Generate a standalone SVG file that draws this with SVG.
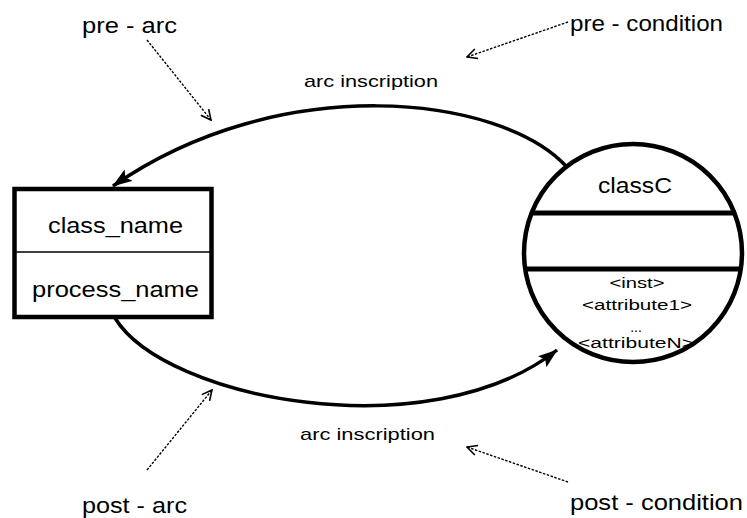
<svg xmlns="http://www.w3.org/2000/svg" width="747" height="518" viewBox="0 0 747 518">
  <style>
    text { font-family: "Liberation Sans", Arial, sans-serif; fill: #000; }
    .label { font-size: 22px; }
    .inscr { font-size: 17px; }
    .name { font-size: 22px; text-anchor: middle; }
    .attr { font-size: 14px; text-anchor: middle; }
    .arc { fill: none; stroke: #000; stroke-width: 3.5; }
    .note { fill: none; stroke: #000; stroke-width: 1.4; stroke-dasharray: 2.5 1.5; }
  </style>
  <defs>
    <marker id="solid" viewBox="0 0 20 14" refX="19" refY="7" markerWidth="20" markerHeight="14" markerUnits="userSpaceOnUse" orient="auto">
      <path d="M0,0 L20,7 L0,14 L4,7 Z" fill="#000"/>
    </marker>
    <marker id="open" viewBox="0 0 12 12" refX="11" refY="6" markerWidth="12" markerHeight="12" markerUnits="userSpaceOnUse" orient="auto">
      <path d="M1,1 L11,6 L1,11" fill="none" stroke="#000" stroke-width="1.6"/>
    </marker>
  </defs>

  <!-- process box -->
  <g id="process">
    <rect x="14.5" y="189" width="197" height="128" fill="#fff" stroke="#000" stroke-width="4.5"/>
    <line x1="14.5" y1="252" x2="211.5" y2="252" stroke="#000" stroke-width="1.5"/>
    <text class="name" x="115.5" y="233" textLength="135" lengthAdjust="spacingAndGlyphs">class_name</text>
    <text class="name" x="115.5" y="297" textLength="167" lengthAdjust="spacingAndGlyphs">process_name</text>
  </g>

  <!-- class place -->
  <g id="classC">
    <circle cx="633" cy="253" r="109" fill="#fff" stroke="#000" stroke-width="4.5"/>
    <line x1="531" y1="213" x2="736" y2="213" stroke="#000" stroke-width="5"/>
    <line x1="527" y1="269" x2="740" y2="269" stroke="#000" stroke-width="5"/>
    <text class="name" x="635" y="193" font-size="20" textLength="74" lengthAdjust="spacingAndGlyphs">classC</text>
    <text class="attr" x="637" y="288" textLength="55" lengthAdjust="spacingAndGlyphs">&lt;inst&gt;</text>
    <text class="attr" x="637" y="310" textLength="110" lengthAdjust="spacingAndGlyphs">&lt;attribute1&gt;</text>
    <text class="attr" x="636" y="332">...</text>
    <text class="attr" x="636" y="348" textLength="116" lengthAdjust="spacingAndGlyphs">&lt;attributeN&gt;</text>
  </g>

  <!-- arcs and annotation pointers -->
  <g id="connectors">
    <path class="arc" d="M566,166 C500,95 280,70 113,186" marker-end="url(#solid)"/>
    <path class="arc" d="M115,318 C165,400 430,450 557,350" marker-end="url(#solid)"/>
    <path class="note" d="M147,40 L211,120" marker-end="url(#open)"/>
    <path class="note" d="M568,22 L467,57" marker-end="url(#open)"/>
    <path class="note" d="M147,470 L212,390" marker-end="url(#open)"/>
    <path class="note" d="M568,482 L467,447" marker-end="url(#open)"/>
  </g>

  <!-- labels -->
  <g id="labels">
    <text class="inscr" x="304" y="87" textLength="134" lengthAdjust="spacingAndGlyphs">arc inscription</text>
    <text class="inscr" x="300" y="440" textLength="135" lengthAdjust="spacingAndGlyphs">arc inscription</text>
    <text class="label" x="82" y="33" textLength="95" lengthAdjust="spacingAndGlyphs">pre - arc</text>
    <text class="label" x="570" y="31" textLength="153" lengthAdjust="spacingAndGlyphs">pre - condition</text>
    <text class="label" x="82" y="513" textLength="105" lengthAdjust="spacingAndGlyphs">post - arc</text>
    <text class="label" x="570" y="510" textLength="173" lengthAdjust="spacingAndGlyphs">post - condition</text>
  </g>
</svg>
